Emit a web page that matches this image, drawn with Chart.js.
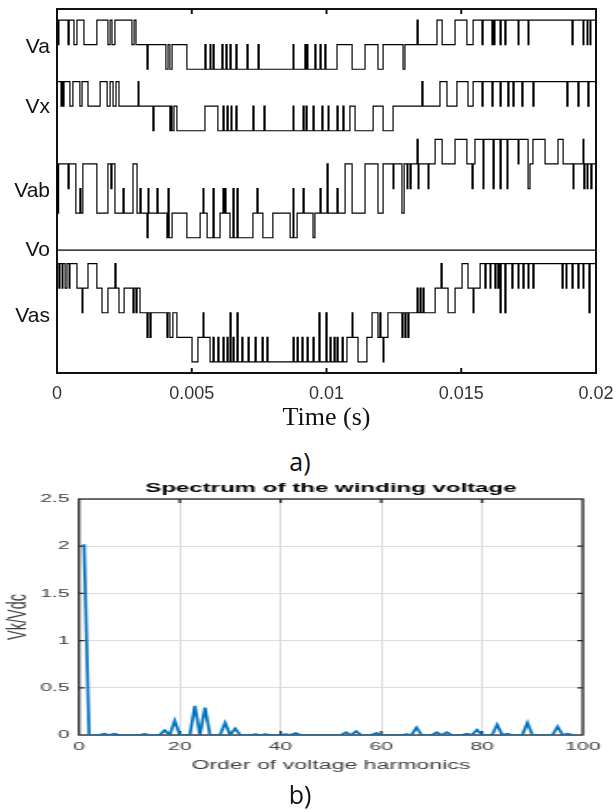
<!DOCTYPE html>
<html><head><meta charset="utf-8">
<script src="https://cdn.jsdelivr.net/npm/chart.js@4.4.0/dist/chart.umd.min.js"></script>
<style>
html,body{margin:0;padding:0;background:#fff;width:616px;height:812px;overflow:hidden;position:relative;}
#topWrap{position:absolute;left:0;top:0;width:616px;height:440px;}
#botWrap{position:absolute;left:0;top:470px;width:333px;height:342px;transform:scaleX(1.85);transform-origin:0 0;}
.lbl{position:absolute;left:-8px;width:616px;text-align:center;font-family:"Open Sans","Noto Sans",sans-serif;font-size:25px;color:#111;line-height:34px;}
</style></head>
<body>
<div id="topWrap"><canvas id="top" width="616" height="440"></canvas></div>
<div class="lbl" style="top:444px">a)</div>
<div id="botWrap"><canvas id="bot" width="333" height="342"></canvas></div>
<div class="lbl" style="top:777px">b)</div>
<script>
// ---------- panel a) : switching waveforms (time in ms, level index) ----------
const timeTicks = [0, 0.005, 0.01, 0.015, 0.02];
const timeTickLabels = ['0', '0.005', '0.01', '0.015', '0.02'];
const traceNames = ['Va', 'Vx', 'Vab', 'Vo', 'Vas'];

const vaSteps = [[0,2],[0.04,1],[0.07,2],[0.41,1],[0.45,2],[0.63,1],[0.74,2],[1.00,1],[1.48,2],[1.89,1],[1.97,2],[2.04,1],[2.15,2],[2.78,1],[2.86,2],[2.93,1],
[3.34,0],[3.38,1],[4.04,0],[4.12,1],[4.19,0],[4.27,1],[4.82,0],[5.49,1],[5.53,0],[5.68,1],[5.71,0],[5.79,1],[5.83,0],[6.12,1],[6.16,0],[6.27,1],[6.31,0],[6.42,1],[6.46,0],[6.64,1],[6.68,0],[7.05,1],[7.09,0],[7.46,1],[7.50,0],[8.76,1],[8.79,0],[9.20,1],[9.24,0],[9.28,1],[9.31,0],[9.57,1],[9.61,0],[9.76,1],[9.80,0],[9.94,1],[9.98,0],[10.39,1],[10.95,0],[11.43,1],[11.91,0],[12.10,1],[12.84,0],[12.91,1],
[13.36,2],[13.40,1],[14.10,2],[14.29,1],[14.77,2],[15.21,1],[15.44,2],[15.77,1],[15.81,2],[16.14,1],[16.18,2],[16.22,1],[16.25,2],[16.44,1],[16.48,2],[16.62,1],[16.66,2],[17.11,1],[17.14,2],[17.48,1],[17.51,2],[19.11,1],[19.15,2],[19.52,1],[19.55,2],[19.67,1],[19.70,2],[19.78,1],[19.81,2],[20,2]];

const vxSteps = [[0,2],[0.15,1],[0.19,2],[0.22,1],[0.26,2],[0.48,1],[0.59,2],[0.85,1],[0.93,2],[1.15,1],[1.60,2],[1.86,1],[1.97,2],[2.08,1],[2.19,2],[2.30,1],[3.01,2],[3.04,1],
[3.56,0],[3.60,1],[4.19,0],[4.23,1],[4.27,0],[4.34,1],[4.45,0],[5.49,1],[5.97,0],[6.16,1],[6.20,0],[6.31,1],[6.35,0],[6.46,1],[6.49,0],[6.64,1],[6.68,0],[7.27,1],[7.31,0],[7.68,1],[7.72,0],[8.76,1],[8.79,0],[9.13,1],[9.17,0],[9.24,1],[9.28,0],[9.50,1],[9.54,0],[9.83,1],[9.87,0],[10.06,1],[10.09,0],[10.39,1],[10.43,0],[10.61,1],[10.65,0],[10.87,1],[11.06,0],[11.73,1],[12.10,0],[12.47,1],
[13.54,2],[13.58,1],[14.21,2],[14.47,1],[14.84,2],[15.25,1],[15.44,2],[15.77,1],[15.81,2],[16.14,1],[16.18,2],[16.44,1],[16.48,2],[16.73,1],[16.77,2],[16.92,1],[16.96,2],[17.25,1],[17.29,2],[17.66,1],[17.70,2],[18.92,1],[18.96,2],[19.33,1],[19.37,2],[19.70,1],[19.74,2],[20,2]];

const vabSteps = [[0,3],[0.02,1],[0.06,3],[0.41,2],[0.45,3],[0.70,1],[0.85,2],[0.89,1],[0.96,3],[1.48,1],[1.89,3],[2.00,2],[2.04,3],[2.15,1],[2.45,2],[2.49,1],[2.82,3],[2.97,1],[3.08,2],[3.12,1],
[3.34,0],[3.38,2],[3.41,1],[3.71,2],[3.75,1],[4.08,0],[4.12,2],[4.16,0],[4.27,1],[4.82,0],[5.31,1],[5.42,2],[5.45,1],[5.57,0],[5.79,2],[5.83,0],[6.05,1],[6.16,2],[6.20,1],[6.23,2],[6.27,1],[6.42,0],[6.53,2],[6.57,0],[6.68,2],[6.72,0],[7.27,1],[7.42,2],[7.46,1],[7.64,0],[8.01,1],[8.65,0],[8.76,2],[8.79,0],[8.91,1],[9.13,2],[9.17,1],[9.50,0],[9.57,1],[9.76,2],[9.80,1],
[10.02,3],[10.06,1],[10.39,2],[10.43,1],[10.69,3],[10.95,1],[11.43,3],[11.91,1],[12.10,3],[12.47,2],[12.50,3],[12.80,1],[12.88,3],[12.99,2],[13.02,3],[13.10,2],[13.14,3],
[13.36,4],[13.40,2],[13.43,3],[13.77,2],[13.80,3],[14.03,4],[14.29,3],[14.77,4],[15.21,3],[15.40,2],[15.44,3],[15.51,4],[15.81,2],[15.84,4],[16.18,2],[16.22,4],[16.44,2],[16.48,4],[16.70,2],[16.73,4],[17.11,3],[17.14,4],[17.48,2],[17.55,3],[17.66,4],[18.11,3],[18.59,4],[18.78,3],[19.15,2],[19.18,3],[19.52,4],[19.55,2],[19.59,3],[19.67,2],[19.70,3],[19.81,2],[19.85,3],[20,3]];

const voSteps = [[0,0],[20,0]];

const vasSteps = [[0,4],[0.07,3],[0.11,4],[0.19,3],[0.22,4],[0.30,3],[0.37,4],[0.45,3],[0.48,4],[0.74,3],[0.93,2],[0.96,3],[1.15,4],[1.48,3],[1.67,2],[1.89,3],[2.15,4],[2.19,3],[2.30,2],[2.49,3],[2.82,2],[2.86,3],[2.93,2],[2.97,3],[3.08,2],
[3.34,1],[3.38,2],[3.45,1],[3.49,2],[4.08,1],[4.12,2],[4.19,1],[4.30,2],[4.45,1],[5.01,0],[5.23,1],[5.42,2],[5.45,1],[5.68,0],
[5.79,1],[5.83,0],[5.97,1],[6.01,0],[6.16,1],[6.20,0],[6.31,1],[6.35,0],[6.42,2],[6.46,0],[6.53,1],[6.57,0],[6.68,2],[6.72,0],[6.86,1],[6.90,0],[7.09,1],[7.13,0],[7.35,1],[7.39,0],[7.61,1],[7.65,0],[7.79,1],[7.83,0],
[8.76,1],[8.80,0],[8.91,1],[8.95,0],[9.09,1],[9.13,0],[9.28,1],[9.32,0],[9.50,1],[9.54,0],[9.72,2],[9.76,0],[9.98,2],[10.02,0],[10.13,1],[10.17,0],[10.28,1],[10.32,0],[10.39,1],[10.43,0],[10.58,1],[10.62,0],
[10.76,1],[10.95,2],[10.98,1],[11.17,0],[11.50,1],[11.69,2],[11.91,1],[11.98,2],[12.02,1],[12.10,0],[12.13,1],[12.28,2],[12.80,1],[12.84,2],[12.91,1],[12.95,2],[13.02,1],[13.06,2],
[13.36,3],[13.40,2],[13.47,3],[13.51,2],[13.58,3],[13.62,2],[14.03,3],[14.25,4],[14.29,3],[14.51,2],[14.77,3],[15.03,4],[15.25,3],[15.44,2],[15.47,3],[15.70,4],[15.88,3],[15.92,4],[16.07,3],[16.10,4],[16.25,3],[16.29,4],[16.36,3],[16.40,4],[16.44,2],[16.48,4],[16.62,2],[16.66,4],[16.88,3],[16.92,4],[17.11,3],[17.14,4],[17.29,3],[17.33,4],[17.48,3],[17.51,4],[17.66,3],[17.70,4],[18.74,3],[18.78,4],[18.89,3],[18.92,4],[19.11,3],[19.15,4],[19.33,3],[19.37,4],[19.52,3],[19.55,4],[19.74,2],[19.78,4],[20,4]];

// ---------- panel b) : harmonic spectrum ----------
const harmonicOrders = [1,2,3,4,5,6,7,8,9,10,11,12,13,14,15,16,17,18,19,20,21,22,23,24,25,26,27,28,29,30,31,32,33,34,35,36,37,38,39,40,41,42,43,44,45,46,47,48,49,50,51,52,53,54,55,56,57,58,59,60,61,62,63,64,65,66,67,68,69,70,71,72,73,74,75,76,77,78,79,80,81,82,83,84,85,86,87,88,89,90,91,92,93,94,95,96,97,98,99];
const spectrumValues = [
 2.02,0,0,0,0.015,0,0.015,0,0,0,
 0,0,0.012,0,0,0,0.05,0,0.15,0,
 0,0,0.31,0,0.29,0,0,0,0.13,0,
 0.07,0,0,0,0.01,0,0.01,0,0,0,
 0.01,0,0.02,0,0,0,0,0,0,0,
 0,0,0.03,0,0.04,0,0,0,0.02,0,
 0,0,0,0,0.01,0,0.08,0,0,0,
 0.03,0,0.03,0,0,0,0.015,0,0.055,0,
 0,0,0.11,0,0.015,0,0,0,0.13,0,
 0,0,0,0,0.09,0,0.015,0,0];
const spectrumXTicks = [0,20,40,60,80,100];
const spectrumYTicks = [0,0.5,1,1.5,2,2.5];
const spectrumTitle = 'Spectrum of the winding voltage';

// ---------- layout constants (not data) ----------
const traceBase = {Va:12.35, Vx:9.85, Vab:5.5, Vo:5.0, Vas:0.45};
const labelPos = [13.25, 10.8, 7.4, 5.0, 2.3];

function toPoints(steps, base){ return steps.map(s => ({x: s[0]/1000, y: base + s[1]})); }
function noPad(s){ s.paddingTop = 0; s.paddingBottom = 0; s.paddingLeft = 0; s.paddingRight = 0; }

Chart.defaults.font.family = "'Liberation Sans', Arial, sans-serif";

const traceSets = [
  [vaSteps, traceBase.Va], [vxSteps, traceBase.Vx], [vabSteps, traceBase.Vab],
  [voSteps, traceBase.Vo], [vasSteps, traceBase.Vas]
].map(([s,b]) => ({data: toPoints(s,b), stepped: true, borderColor:'#000', borderWidth:1.2, pointRadius:0, fill:false}));

const topFrame = {
  id:'topFrame',
  beforeDatasetsDraw(c){
    const {ctx, chartArea:a} = c; const x = c.scales.x;
    ctx.save(); ctx.strokeStyle = '#111'; ctx.lineWidth = 2;
    ctx.strokeRect(a.left, a.top, a.right-a.left, a.bottom-a.top);
    ctx.beginPath();
    timeTicks.slice(1,-1).forEach(v => {
      const px = x.getPixelForValue(v);
      ctx.moveTo(px, a.top); ctx.lineTo(px, a.top+5);
      ctx.moveTo(px, a.bottom); ctx.lineTo(px, a.bottom-5);
    });
    ctx.stroke(); ctx.restore();
  }
};

new Chart(document.getElementById('top'), {
  type:'line',
  data:{datasets: traceSets},
  options:{
    responsive:false, animation:false, devicePixelRatio:1,
    layout:{padding:{top:9, right:20, left:0, bottom:0}},
    plugins:{legend:{display:false}, tooltip:{enabled:false}, title:{display:false}},
    scales:{
      x:{type:'linear', min:0, max:0.02,
        afterBuildTicks: s => { s.ticks = timeTicks.map(v => ({value:v})); },
        ticks:{callback:(v,i) => timeTickLabels[i], font:{size:18}, color:'#333', padding:10, maxRotation:0, autoSkip:false},
        grid:{display:false, drawTicks:false}, border:{display:false},
        title:{display:true, text:'Time (s)', font:{family:"'Liberation Serif', 'Times New Roman', serif", size:26}, color:'#111', padding:{top:0, bottom:6}},
        afterFit: s => { s.height = 440 - 373; noPad(s); }
      },
      y:{type:'linear', min:0, max:14.8,
        afterBuildTicks: s => { s.ticks = labelPos.map(v => ({value:v})); },
        ticks:{callback:(v,i) => traceNames[i], font:{size:21}, color:'#111', padding:7, autoSkip:false},
        grid:{display:false, drawTicks:false}, border:{display:false},
        afterFit: s => { s.width = 57; noPad(s); }
      }
    }
  },
  plugins:[topFrame]
});

const botFrame = {
  id:'botFrame',
  beforeDatasetsDraw(c){
    const {ctx, chartArea:a} = c; const x = c.scales.x, y = c.scales.y;
    ctx.save(); ctx.strokeStyle = '#262626'; ctx.lineWidth = 1.3;
    ctx.strokeRect(a.left, a.top, a.right-a.left, a.bottom-a.top);
    ctx.beginPath();
    spectrumXTicks.slice(1,-1).forEach(v => {
      const px = x.getPixelForValue(v);
      ctx.moveTo(px, a.top); ctx.lineTo(px, a.top+4);
      ctx.moveTo(px, a.bottom); ctx.lineTo(px, a.bottom-4);
    });
    spectrumYTicks.slice(1,-1).forEach(v => {
      const py = y.getPixelForValue(v);
      ctx.moveTo(a.left, py); ctx.lineTo(a.left+3, py);
      ctx.moveTo(a.right, py); ctx.lineTo(a.right-3, py);
    });
    ctx.stroke();
    ctx.fillStyle = '#000'; ctx.font = "bold 13px 'Liberation Sans', Arial, sans-serif";
    ctx.textAlign = 'center'; ctx.textBaseline = 'middle';
    ctx.fillText(spectrumTitle, (a.left + a.right) / 2, 18);
    ctx.restore();
  }
};

new Chart(document.getElementById('bot'), {
  type:'line',
  data:{datasets:[{data: harmonicOrders.map((o,i) => ({x:o, y:spectrumValues[i]})), borderColor:'#0072BD', borderWidth:1.7, pointRadius:0, tension:0, fill:false}]},
  options:{
    responsive:false, animation:false, devicePixelRatio:1,
    layout:{padding:{top:29, right:18, left:0, bottom:0}},
    plugins:{legend:{display:false}, tooltip:{enabled:false}, title:{display:false}},
    scales:{
      x:{type:'linear', min:0, max:100,
        afterBuildTicks: s => { s.ticks = spectrumXTicks.map(v => ({value:v})); },
        ticks:{font:{size:11.5}, color:'#404040', padding:5, maxRotation:0, autoSkip:false},
        grid:{color:'#dcdcdc', lineWidth:1, drawTicks:false}, border:{display:false},
        title:{display:true, text:'Order of voltage harmonics', font:{size:12.5}, color:'#404040', padding:{top:0, bottom:39}},
        afterFit: s => { s.height = 342 - 265; noPad(s); }
      },
      y:{type:'linear', min:0, max:2.5,
        afterBuildTicks: s => { s.ticks = spectrumYTicks.map(v => ({value:v})); },
        ticks:{callback: v => String(v), font:{size:11.5}, color:'#404040', padding:5, autoSkip:false},
        grid:{color:'#dcdcdc', lineWidth:1, drawTicks:false}, border:{display:false},
        title:{display:true, text:'Vk/Vdc', font:{size:14.5}, color:'#404040', padding:{top:1, bottom:0}},
        afterFit: s => { s.width = 42.7; noPad(s); }
      }
    }
  },
  plugins:[botFrame]
});
</script>
</body></html>
